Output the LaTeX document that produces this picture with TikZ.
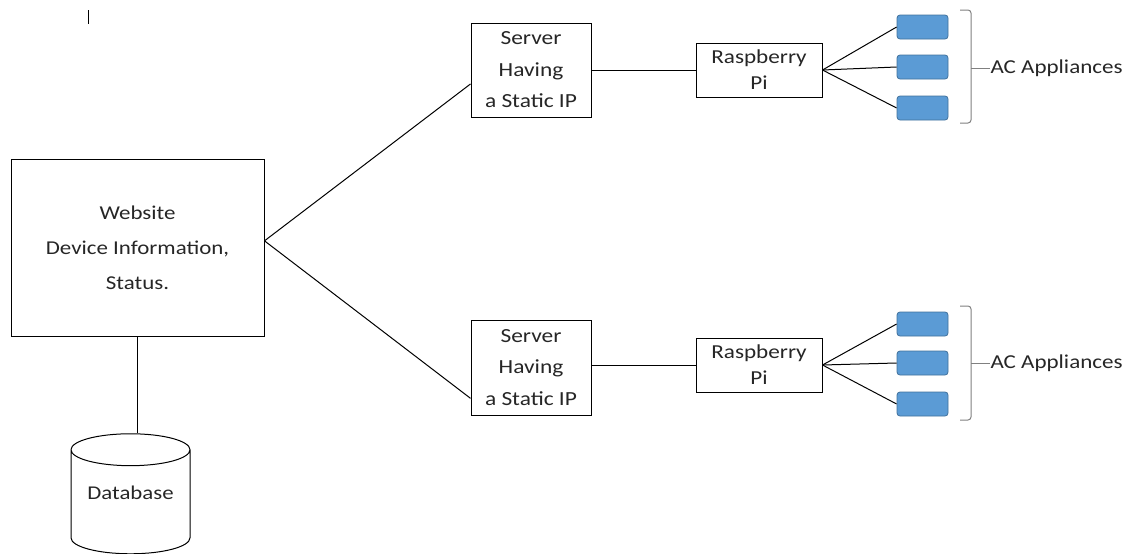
\documentclass[tikz,border=0pt]{standalone}
\usepackage{fontspec}
\setmainfont{Carlito}[FakeStretch=1.17]
\usetikzlibrary{shapes.geometric}
\definecolor{appblue}{HTML}{5B9BD5}
\definecolor{appedge}{HTML}{41719C}
\definecolor{txt}{HTML}{262626}
\begin{document}
\begin{tikzpicture}[x=1pt,y=-1pt,line width=1pt,
  box/.style={draw, inner sep=0pt, align=center, text=txt},
  app/.style={draw=appedge, fill=appblue, rounded corners=3pt, minimum width=51pt, minimum height=24pt, inner sep=0pt, line width=0.8pt},
  lbl/.style={anchor=west, inner sep=0pt, text=txt, font=\fontsize{19.7}{22}\selectfont}]
\useasboundingbox (0,0) rectangle (1128,554);
\node[box, minimum width=253pt, minimum height=177pt, font=\fontsize{19.6}{35}\selectfont] (web) at (137.5,247.5) {Website\\Device Information,\\Status.};
\node[draw, cylinder, shape border rotate=90, aspect=0.37, minimum width=119pt, minimum height=120pt, inner sep=0pt,
  text height=13.5pt, text depth=19.5pt, text=txt, font=\fontsize{19.5}{22}\selectfont] (db) at (130.5,502) {Database};
\node[box, minimum width=120pt, minimum height=94pt, font=\fontsize{20}{31.5}\selectfont] (s1) at (531,70) {Server\\Having\\a Static IP};
\node[box, minimum width=120pt, minimum height=95pt, font=\fontsize{20}{31.5}\selectfont] (s2) at (531,367.5) {Server\\Having\\a Static IP};
\node[box, minimum width=126pt, minimum height=54pt, font=\fontsize{19.8}{26}\selectfont] (p1) at (759,70) {Raspberry\\Pi};
\node[box, minimum width=126pt, minimum height=54pt, font=\fontsize{19.8}{26}\selectfont] (p2) at (759,365) {Raspberry\\Pi};
\node[app] (a11) at (922.5,27) {};
\node[app] (a12) at (922.5,67) {};
\node[app] (a13) at (922.5,108) {};
\node[app] (a21) at (922.5,324) {};
\node[app] (a22) at (922.5,363) {};
\node[app] (a23) at (922.5,404) {};
\node[lbl] (l1) at (990,68) {AC Appliances};
\node[lbl] (l2) at (990,363) {AC Appliances};
\draw (88,10) -- (88,24);
\draw (web.3) -- (s1.193);
\draw (web.3) -- (s2.207);
\draw (web.south) -- (web.south |- db.north);
\draw (s1.east) -- (p1.west);
\draw (p2.west -| s2.east) -- (p2.west);
\draw (p1.east) -- (a11.west);
\draw (p1.east) -- (a12.west);
\draw (p1.east) -- (a13.west);
\draw (p2.east) -- (a21.west);
\draw (p2.east) -- (a22.west);
\draw (p2.east) -- (a23.west);
\draw[gray, rounded corners=3pt] (960,10) -- (971,10) -- (971,123) -- (960,123);
\draw[gray] (971,68) -- (l1.west);
\draw[gray, rounded corners=3pt] (960,306) -- (971,306) -- (971,420) -- (960,420);
\draw[gray] (971,363) -- (l2.west);
\end{tikzpicture}
\end{document}
